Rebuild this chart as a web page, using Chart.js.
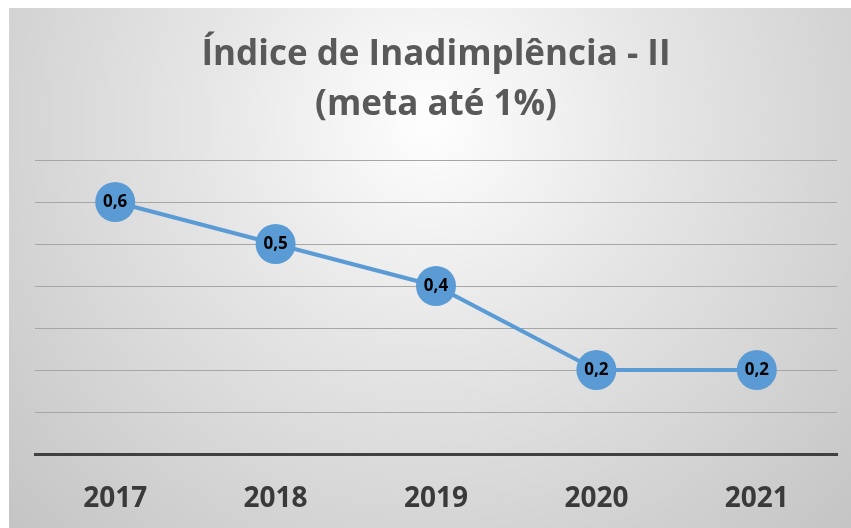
<!DOCTYPE html>
<html>
<head>
<meta charset="utf-8">
<script src="https://cdn.jsdelivr.net/npm/chart.js@4/dist/chart.umd.min.js"></script>
<style>
html,body{margin:0;padding:0;background:#fff;}
#wrap{position:absolute;left:0;top:0;width:851px;height:528px;}
</style>
</head>
<body>
<div id="wrap"><canvas id="c" width="851" height="528"></canvas></div>
<script>
const categories = ['2017', '2018', '2019', '2020', '2021'];
const values = [0.6, 0.5, 0.4, 0.2, 0.2];
const titleLines = ['Índice de Inadimplência - II', '(meta até 1%)'];
const yMin = 0, yMax = 0.7, yStep = 0.1;

const FONT = "'Open Sans', 'DejaVu Sans', sans-serif";

const bgPlugin = {
  id: 'bg',
  beforeDraw(chart) {
    const ctx = chart.ctx;
    ctx.save();
    ctx.fillStyle = '#ffffff';
    ctx.fillRect(0, 0, chart.width, chart.height);
    const g = ctx.createRadialGradient(430, 120, 10, 430, 120, 620);
    g.addColorStop(0, '#fdfdfd');
    g.addColorStop(0.35, '#e6e6e6');
    g.addColorStop(1, '#c1c1c1');
    ctx.fillStyle = g;
    ctx.fillRect(9, 8, chart.width - 9, chart.height - 8);
    ctx.restore();
  }
};

const labelPlugin = {
  id: 'pointLabels',
  afterDatasetsDraw(chart) {
    const ctx = chart.ctx;
    const meta = chart.getDatasetMeta(0);
    ctx.save();
    ctx.font = "bold 17px " + FONT;
    ctx.fillStyle = '#000000';
    ctx.textAlign = 'center';
    ctx.textBaseline = 'middle';
    meta.data.forEach((pt, i) => {
      ctx.fillText(String(values[i]).replace('.', ','), pt.x, pt.y);
    });
    ctx.restore();
  }
};

new Chart(document.getElementById('c'), {
  type: 'line',
  data: {
    labels: categories,
    datasets: [{
      data: values,
      borderColor: '#5b9bd5',
      backgroundColor: '#5b9bd5',
      borderWidth: 4,
      pointRadius: 20,
      pointHoverRadius: 20,
      pointBackgroundColor: '#5b9bd5',
      pointBorderColor: '#5b9bd5',
      pointBorderWidth: 0,
      tension: 0,
      clip: false
    }]
  },
  options: {
    responsive: false,
    animation: false,
    devicePixelRatio: 1,
    events: [],
    layout: { autoPadding: false, padding: { left: 35, right: 14, top: 0, bottom: 0 } },
    plugins: {
      legend: { display: false },
      tooltip: { enabled: false },
      title: {
        display: true,
        text: titleLines,
        color: '#595959',
        font: { family: FONT, size: 35, weight: 'bold', lineHeight: 1.4286 },
        padding: { top: 30, bottom: 30 }
      }
    },
    scales: {
      x: {
        offset: true,
        grid: { display: false, drawTicks: false },
        border: { display: true, color: '#404040', width: 3 },
        ticks: {
          color: '#3a3a3a',
          font: { family: FONT, size: 28, weight: 'bold' },
          padding: 28
        },
        afterFit(scale) { scale.height = 74; scale.paddingLeft = 0; scale.paddingRight = 0; }
      },
      y: {
        min: yMin,
        max: yMax,
        ticks: { display: false, stepSize: yStep },
        grid: { color: '#a6a6a6', lineWidth: 1, drawTicks: false },
        border: { display: false },
        afterFit(scale) { scale.width = 0; scale.paddingTop = 0; scale.paddingBottom = 0; }
      }
    }
  },
  plugins: [bgPlugin, labelPlugin]
});
</script>
</body>
</html>
